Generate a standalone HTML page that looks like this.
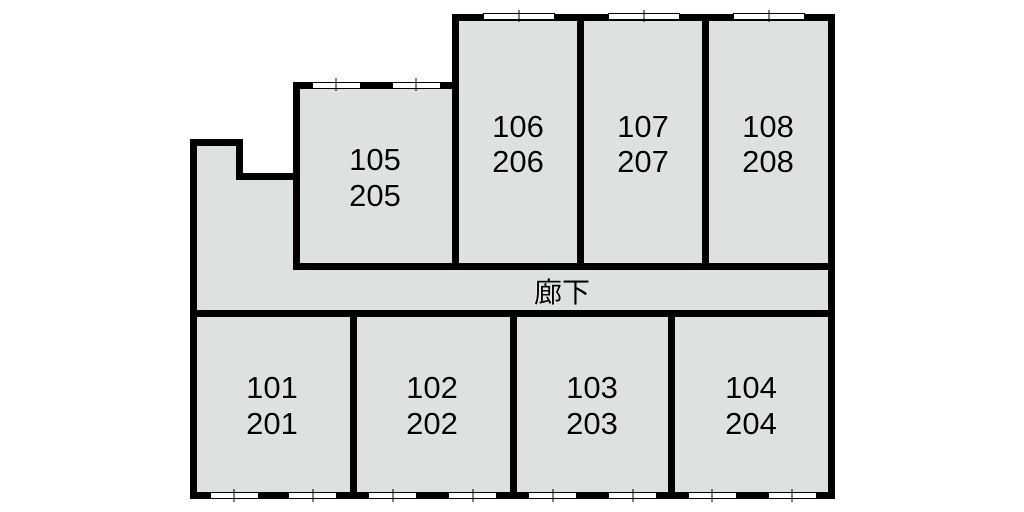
<!DOCTYPE html>
<html><head><meta charset="utf-8"><style>
html,body{margin:0;padding:0;background:#fff;width:1024px;height:512px;overflow:hidden}
text{font-family:"Liberation Sans","Noto Sans CJK JP",sans-serif;font-size:31px;fill:#000;text-anchor:middle;stroke:#fff;stroke-width:0.6;paint-order:stroke}
</style></head><body>
<svg width="1024" height="512" xmlns="http://www.w3.org/2000/svg">
<polygon points="190,139 243,139 243,173 293,173 293,82 452,82 452,14 835,14 835,499 190,499" fill="#dde1df"/>
<g fill="#000">
<rect x="190" y="139" width="7" height="360"/>
<rect x="190" y="139" width="53" height="7"/>
<rect x="236" y="139" width="7" height="41"/>
<rect x="236" y="173" width="64" height="7"/>
<rect x="293" y="82" width="7" height="188"/>
<rect x="293" y="82" width="166" height="7"/>
<rect x="452" y="14" width="7" height="256"/>
<rect x="452" y="14" width="383" height="7"/>
<rect x="577" y="14" width="7" height="256"/>
<rect x="702" y="14" width="7" height="256"/>
<rect x="828" y="14" width="7" height="485"/>
<rect x="293" y="263" width="542" height="7"/>
<rect x="190" y="310" width="645" height="7"/>
<rect x="350" y="310" width="7" height="189"/>
<rect x="510" y="310" width="7" height="189"/>
<rect x="668" y="310" width="7" height="189"/>
<rect x="190" y="492" width="645" height="7"/>
</g>
<g fill="#fff" stroke="#000" stroke-width="1">
<rect x="312.5" y="82.5" width="48" height="6"/><line x1="336" y1="78" x2="336" y2="91"/>
<rect x="392.5" y="82.5" width="48" height="6"/><line x1="416" y1="78" x2="416" y2="91"/>
<rect x="483.5" y="13.5" width="71" height="6"/><line x1="519" y1="10" x2="519" y2="22"/>
<rect x="608.5" y="13.5" width="71" height="6"/><line x1="644" y1="10" x2="644" y2="22"/>
<rect x="733.5" y="13.5" width="71" height="6"/><line x1="769" y1="10" x2="769" y2="22"/>
<rect x="210.5" y="492.5" width="48" height="6"/><line x1="234" y1="489" x2="234" y2="502"/>
<rect x="288.5" y="492.5" width="48" height="6"/><line x1="313" y1="489" x2="313" y2="502"/>
<rect x="368.5" y="492.5" width="48" height="6"/><line x1="393" y1="489" x2="393" y2="502"/>
<rect x="448.5" y="492.5" width="48" height="6"/><line x1="473" y1="489" x2="473" y2="502"/>
<rect x="528.5" y="492.5" width="48" height="6"/><line x1="553" y1="489" x2="553" y2="502"/>
<rect x="608.5" y="492.5" width="48" height="6"/><line x1="633" y1="489" x2="633" y2="502"/>
<rect x="688.5" y="492.5" width="48" height="6"/><line x1="712" y1="489" x2="712" y2="502"/>
<rect x="768.5" y="492.5" width="48" height="6"/><line x1="792" y1="489" x2="792" y2="502"/>
</g>
<text x="375" y="170">105</text><text x="375" y="206">205</text>
<text x="518" y="137">106</text><text x="518" y="172">206</text>
<text x="643" y="137">107</text><text x="643" y="172">207</text>
<text x="768" y="137">108</text><text x="768" y="172">208</text>
<text x="272" y="398">101</text><text x="272" y="434">201</text>
<text x="432" y="398">102</text><text x="432" y="434">202</text>
<text x="592" y="398">103</text><text x="592" y="434">203</text>
<text x="751" y="398">104</text><text x="751" y="434">204</text>
<text x="562" y="302" style="font-size:28px">廊下</text>
</svg>
</body></html>
